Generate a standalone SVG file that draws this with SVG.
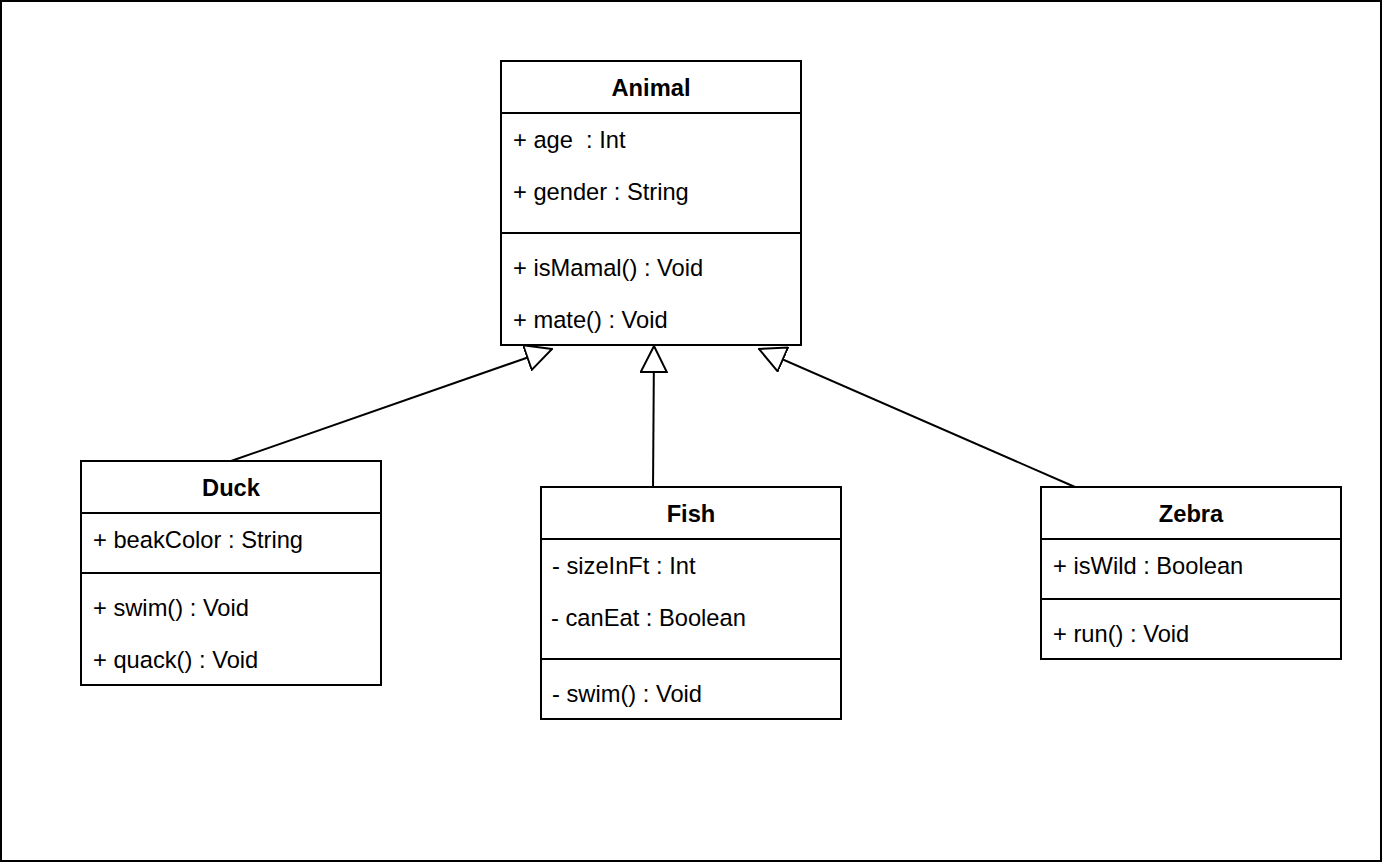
<svg xmlns="http://www.w3.org/2000/svg" width="1382" height="862" viewBox="0 0 1382 862">
<style>
.box{fill:#fff;stroke:#000;stroke-width:2}
.ln{stroke:#000;stroke-width:2;fill:none}
.t{font-family:"Liberation Sans",Arial,sans-serif;font-size:23.7px;fill:#000}
.h{font-family:"Liberation Sans",Arial,sans-serif;font-size:23.7px;font-weight:bold;fill:#000;text-anchor:middle}
</style>
<defs>
<marker id="gen" markerUnits="userSpaceOnUse" viewBox="-1 -1 28 28" markerWidth="28" markerHeight="28" refX="26" refY="13" orient="auto">
<path d="M0,0 L26,13 L0,26 Z" fill="#fff" stroke="#000" stroke-width="2"/>
</marker>
</defs>
<rect x="1" y="1" width="1380" height="860" fill="#fff" stroke="#000" stroke-width="2"/>
<g id="connectors">
<line class="ln" x1="231" y1="461" x2="552" y2="349" marker-end="url(#gen)"/>
<line class="ln" x1="653" y1="490" x2="654" y2="346" marker-end="url(#gen)"/>
<line class="ln" x1="1075" y1="487" x2="759" y2="349" marker-end="url(#gen)"/>
</g>
<g id="animal">
<rect class="box" x="501" y="61" width="300" height="284"/>
<line class="ln" x1="501" y1="113" x2="801" y2="113"/>
<line class="ln" x1="501" y1="233" x2="801" y2="233"/>
<text class="h" x="651" y="96">Animal</text>
<text class="t" x="513" y="148" xml:space="preserve">+ age  : Int</text>
<text class="t" x="513" y="200">+ gender : String</text>
<text class="t" x="513" y="276">+ isMamal() : Void</text>
<text class="t" x="513" y="328">+ mate() : Void</text>
</g>
<g id="duck">
<rect class="box" x="81" y="461" width="300" height="224"/>
<line class="ln" x1="81" y1="513" x2="381" y2="513"/>
<line class="ln" x1="81" y1="573" x2="381" y2="573"/>
<text class="h" x="231" y="496">Duck</text>
<text class="t" x="93" y="548">+ beakColor : String</text>
<text class="t" x="93" y="616">+ swim() : Void</text>
<text class="t" x="93" y="668">+ quack() : Void</text>
</g>
<g id="fish">
<rect class="box" x="541" y="487" width="300" height="232"/>
<line class="ln" x1="541" y1="539" x2="841" y2="539"/>
<line class="ln" x1="541" y1="659" x2="841" y2="659"/>
<text class="h" x="691" y="522">Fish</text>
<text class="t" x="552" y="574">- sizeInFt : Int</text>
<text class="t" x="551" y="626">- canEat : Boolean</text>
<text class="t" x="552" y="702">- swim() : Void</text>
</g>
<g id="zebra">
<rect class="box" x="1041" y="487" width="300" height="172"/>
<line class="ln" x1="1041" y1="539" x2="1341" y2="539"/>
<line class="ln" x1="1041" y1="599" x2="1341" y2="599"/>
<text class="h" x="1191" y="522">Zebra</text>
<text class="t" x="1053" y="574">+ isWild : Boolean</text>
<text class="t" x="1053" y="642">+ run() : Void</text>
</g>
</svg>
